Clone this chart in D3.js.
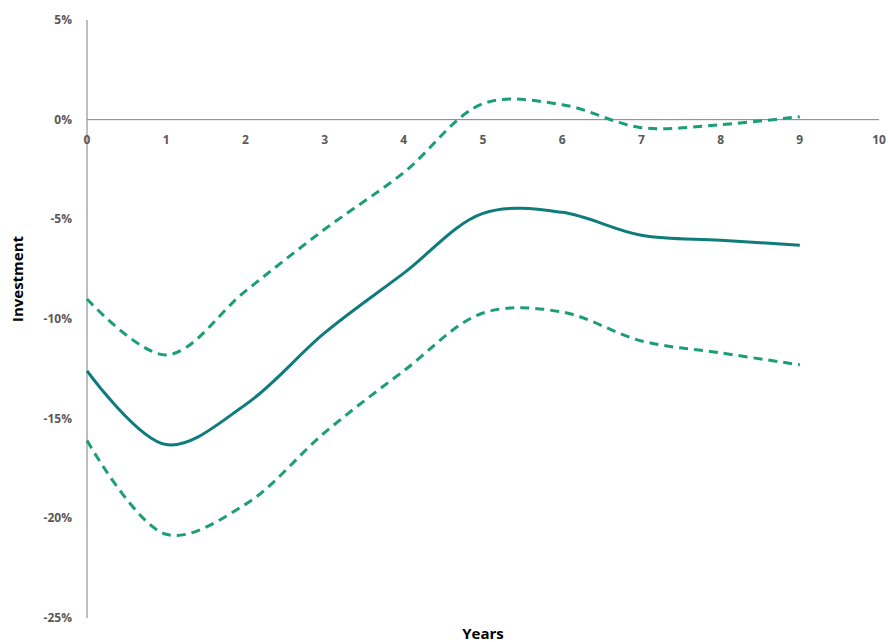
<!DOCTYPE html>
<html><head><meta charset="utf-8">
<script src="https://cdn.jsdelivr.net/npm/d3@7"></script>
<style>body{margin:0;background:#fff}</style>
</head><body><svg id="c" width="888" height="642"></svg>
<script>
var years = [0,1,2,3,4,5,6,7,8,9];
var mid   = [-12.6,-16.3,-14.3,-10.7,-7.7,-4.7,-4.65,-5.8,-6.05,-6.3];
var upper = [-9.0,-11.8,-8.6,-5.5,-2.65,0.8,0.75,-0.4,-0.25,0.15];
var lower = [-16.1,-20.8,-19.3,-15.7,-12.6,-9.7,-9.65,-11.1,-11.7,-12.3];
var xTicks = [0,1,2,3,4,5,6,7,8,9,10];
var yTicks = [5,0,-5,-10,-15,-20,-25];

var svg = d3.select("#c");
var x = d3.scaleLinear().domain([0,10]).range([87,879]);
var y = d3.scaleLinear().domain([-25,5]).range([618,20]);
var font = "'Open Sans', sans-serif";

svg.append("line").attr("x1",87).attr("x2",87).attr("y1",20).attr("y2",618).attr("stroke","#7f7f7f");
svg.append("line").attr("x1",87).attr("x2",879).attr("y1",y(0)).attr("y2",y(0)).attr("stroke","#7f7f7f");

svg.selectAll(".yt").data(yTicks).enter().append("text")
  .attr("x",72).attr("y",function(d){return y(d)+4;})
  .attr("text-anchor","end").attr("font-family",font).attr("font-weight","bold")
  .attr("font-size",12).attr("fill","#595959").text(function(d){return d+"%";});
svg.selectAll(".xt").data(xTicks).enter().append("text")
  .attr("x",function(d){return x(d);}).attr("y",y(0)+24)
  .attr("text-anchor","middle").attr("font-family",font).attr("font-weight","bold")
  .attr("font-size",12).attr("fill","#595959").text(function(d){return d;});

svg.append("text").attr("transform","translate(23,279) rotate(-90)").attr("text-anchor","middle")
  .attr("font-family",font).attr("font-weight","bold").attr("font-size",15).text("Investment");
svg.append("text").attr("x",483).attr("y",639).attr("text-anchor","middle")
  .attr("font-family",font).attr("font-weight","bold").attr("font-size",15).text("Years");

var line = d3.line().x(function(d,i){return x(years[i]);}).y(function(d){return y(d);})
  .curve(d3.curveCatmullRom.alpha(0.5));
[[upper,"#1a9e77","9,6"],[lower,"#1a9e77","9,6"],[mid,"#0e7c7b",null]].forEach(function(s){
  svg.append("path").attr("d",line(s[0])).attr("fill","none").attr("stroke",s[1])
    .attr("stroke-width",3).attr("stroke-dasharray",s[2]);
});
</script></body></html>
